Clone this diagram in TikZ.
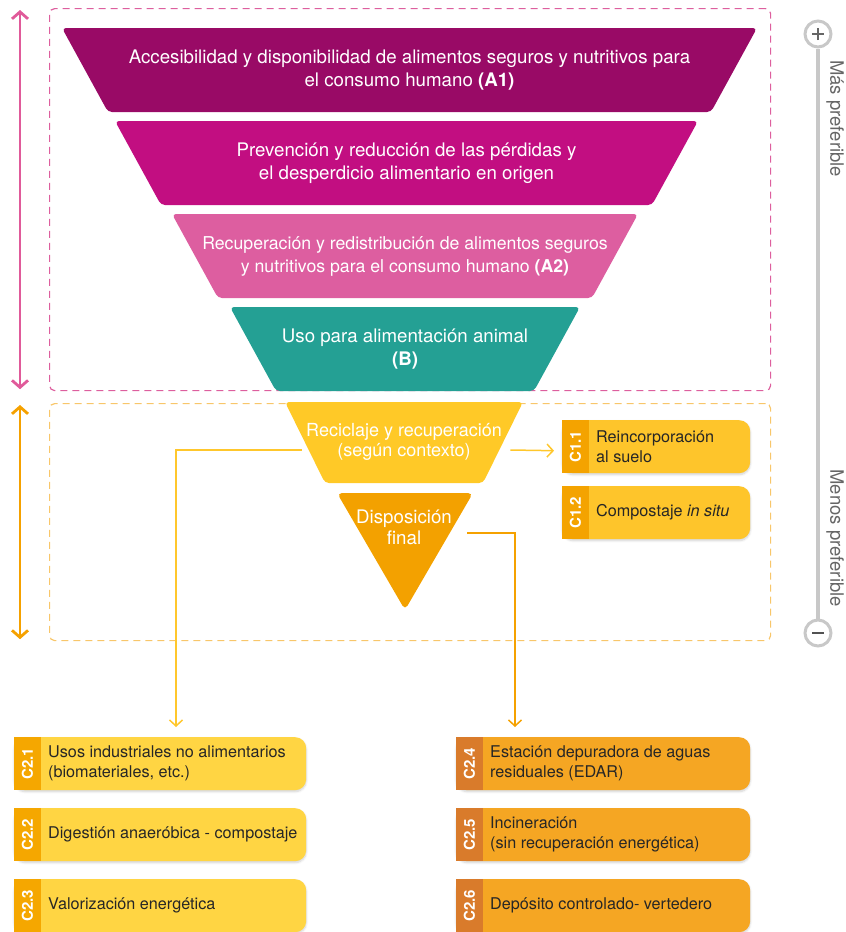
\documentclass[tikz,border=0pt]{standalone}
\usepackage{fontspec}
\setmainfont{TeX Gyre Heros}
\usepackage{xcolor}
\usepackage{tikz}
\usetikzlibrary{arrows.meta,shadows.blur}

\definecolor{layerA}{HTML}{990A66}
\definecolor{layerP}{HTML}{C20E81}
\definecolor{layerR}{HTML}{DD5EA0}
\definecolor{layerB}{HTML}{24A094}
\definecolor{layerC}{HTML}{FFC927}
\definecolor{layerD}{HTML}{F3A100}
\definecolor{pinkzone}{HTML}{DD5F9E}
\definecolor{orgzone}{HTML}{F8C66A}
\definecolor{pinkline}{HTML}{E05A9A}
\definecolor{orgline}{HTML}{F5A100}
\definecolor{yelline}{HTML}{FFC72C}
\definecolor{boxC}{HTML}{FEC52B}
\definecolor{tabC}{HTML}{F4A300}
\definecolor{boxL}{HTML}{FFD543}
\definecolor{tabL}{HTML}{F5A700}
\definecolor{boxR}{HTML}{F5A623}
\definecolor{tabR}{HTML}{D97B2B}
\definecolor{scalegray}{HTML}{C8C8C8}
\definecolor{scaletxt}{HTML}{666666}

\begin{document}
\begin{tikzpicture}[x=1pt,y=-1pt,
  layertext/.style={text=white, align=center, font=\fontsize{#1}{23}\selectfont},
  layertext/.default=18.7,
  zone/.style={dash pattern=on 7pt off 5pt, line width=1.2pt, rounded corners=5pt, anchor=north west, inner sep=0pt},
  rangearrow/.style={line width=2.8pt, {Straight Barb[length=7pt,width=16pt]}-{Straight Barb[length=7pt,width=16pt]}},
  link/.style={line width=1.5pt, -{Straight Barb[length=6pt,width=13pt]}},
  optbox/.style={rounded corners=11pt, minimum height=53pt, inner sep=0pt, anchor=north west,
    blur shadow={shadow xshift=0pt, shadow yshift=-1.5pt, shadow blur steps=6, shadow opacity=18}},
  optlabel/.style={text=white, rotate=90, font=\fontsize{15}{15}\selectfont\bfseries},
  opttext/.style={anchor=west, align=left, text=black!85, inner sep=0pt, font=\fontsize{16.2}{20}\selectfont},
  scalecirc/.style={circle, draw=scalegray, fill=white, line width=3pt, minimum size=26pt, inner sep=0pt},
  scaletext/.style={text=scaletxt, rotate=-90, inner sep=0pt, font=\fontsize{18.5}{18.5}\selectfont}]
\useasboundingbox (0,0) rectangle (846,932);

% zones
\node[zone, draw=pinkzone, minimum width=721pt, minimum height=382pt] (zoneA) at (49,8) {};
\node[zone, draw=orgzone, minimum width=721pt, minimum height=237pt] (zoneC) at (49,403) {};
\draw[rangearrow, pinkline] ([xshift=-29pt,yshift=-2pt]zoneA.north west) -- ([xshift=-29pt,yshift=2pt]zoneA.south west);
\draw[rangearrow, orgline] ([xshift=-29pt,yshift=-2pt]zoneC.north west) -- ([xshift=-29pt,yshift=2pt]zoneC.south west);

% upper layers
\foreach \nm/\yt/\xa/\xb/\col/\fs/\txt in {
  a1/28/62/757/layerA/18.7/{Accesibilidad y disponibilidad de alimentos seguros y nutritivos para\\el consumo humano \textbf{(A1)}},
  prev/121/115/698/layerP/18.7/{Prevención y reducción de las pérdidas y\\el desperdicio alimentario en origen},
  a2/214/172/638/layerR/17.7/{Recuperación y redistribución de alimentos seguros\\y nutritivos para el consumo humano \textbf{(A2)}},
  b/307/230/580/layerB/18.7/{Uso para alimentación animal\\\textbf{(B)}}} {
  \fill[\col, rounded corners=4pt] (\xa,\yt) -- (\xb,\yt) -- (\xb-46,\yt+84) -- (\xa+46,\yt+84) -- cycle;
  \node[layertext=\fs] (\nm) at ({(\xa+\xb)/2},\yt+42) {\txt};
}

% lower layers
\fill[layerC, rounded corners=4pt] (285,402) -- (523,402) -- (483,483) -- (325,483) -- cycle;
\node[layertext, font=\fontsize{18}{20}\selectfont] (rec) at (404,442) {Reciclaje y recuperación\\(según contexto)};
\fill[layerD, rounded corners=5pt] (337,493) -- (473,493) -- (405,610) -- cycle;
\node[layertext, font=\fontsize{18.7}{21}\selectfont] (disp) at (404,527) {Disposición\\final};

% option boxes
\foreach \nm/\xx/\yy/\w/\mc/\tc/\lab/\txt in {
  c11/562/420/188/boxC/tabC/C1.1/{Reincorporación\\al suelo},
  c12/562/486/188/boxC/tabC/C1.2/{Compostaje \textit{in situ}},
  c21/14/737/292/boxL/tabL/C2.1/{Usos industriales no alimentarios\\(biomateriales, etc.)},
  c22/14/808/292/boxL/tabL/C2.2/{Digestión anaeróbica - compostaje},
  c23/14/879/292/boxL/tabL/C2.3/{Valorización energética},
  c24/456/737/294/boxR/tabR/C2.4/{Estación depuradora de aguas\\residuales (EDAR)},
  c25/456/808/294/boxR/tabR/C2.5/{Incineración\\(sin recuperación energética)},
  c26/456/879/294/boxR/tabR/C2.6/{Depósito controlado- vertedero}} {
  \node[optbox, fill=\mc, minimum width=\w pt] (\nm) at (\xx,\yy) {};
  \fill[\tc] (\nm.north west) rectangle ([xshift=27pt]\nm.south west);
  \node[optlabel] at ([xshift=13.5pt]\nm.west) {\lab};
  \node[opttext] at ([xshift=34pt]\nm.west) {\txt};
}

% connectors
\coordinate (lend) at (176,727);
\coordinate (rend) at (515,727);
\draw[link, yelline] ([xshift=-1pt,yshift=-8pt]rec.west) -| (lend);
\draw[link, yelline] ([xshift=5pt,yshift=-8pt]rec.east) -- ([xshift=-8pt,yshift=-4pt]c11.west);
\draw[link, orgline] ([xshift=12pt,yshift=-6pt]disp.east) -| (rend);

% preference scale
\node[scalecirc] (plus) at (818,34) {};
\node[scalecirc] (minus) at (818,633) {};
\draw[scalegray, line width=4pt] (plus) -- (minus);
\draw[scaletxt, line width=1.1pt] ([xshift=-6pt]plus.center) -- ([xshift=6pt]plus.center)
  ([yshift=-6pt]plus.center) -- ([yshift=6pt]plus.center);
\draw[scaletxt!80!black, line width=2.4pt] ([xshift=-6pt]minus.center) -- ([xshift=6pt]minus.center);
\node[scaletext, anchor=west] (mas) at (835,60) {Más preferible};
\node[scaletext, anchor=east] (menos) at (835,607) {Menos preferible};
\end{tikzpicture}
\end{document}
